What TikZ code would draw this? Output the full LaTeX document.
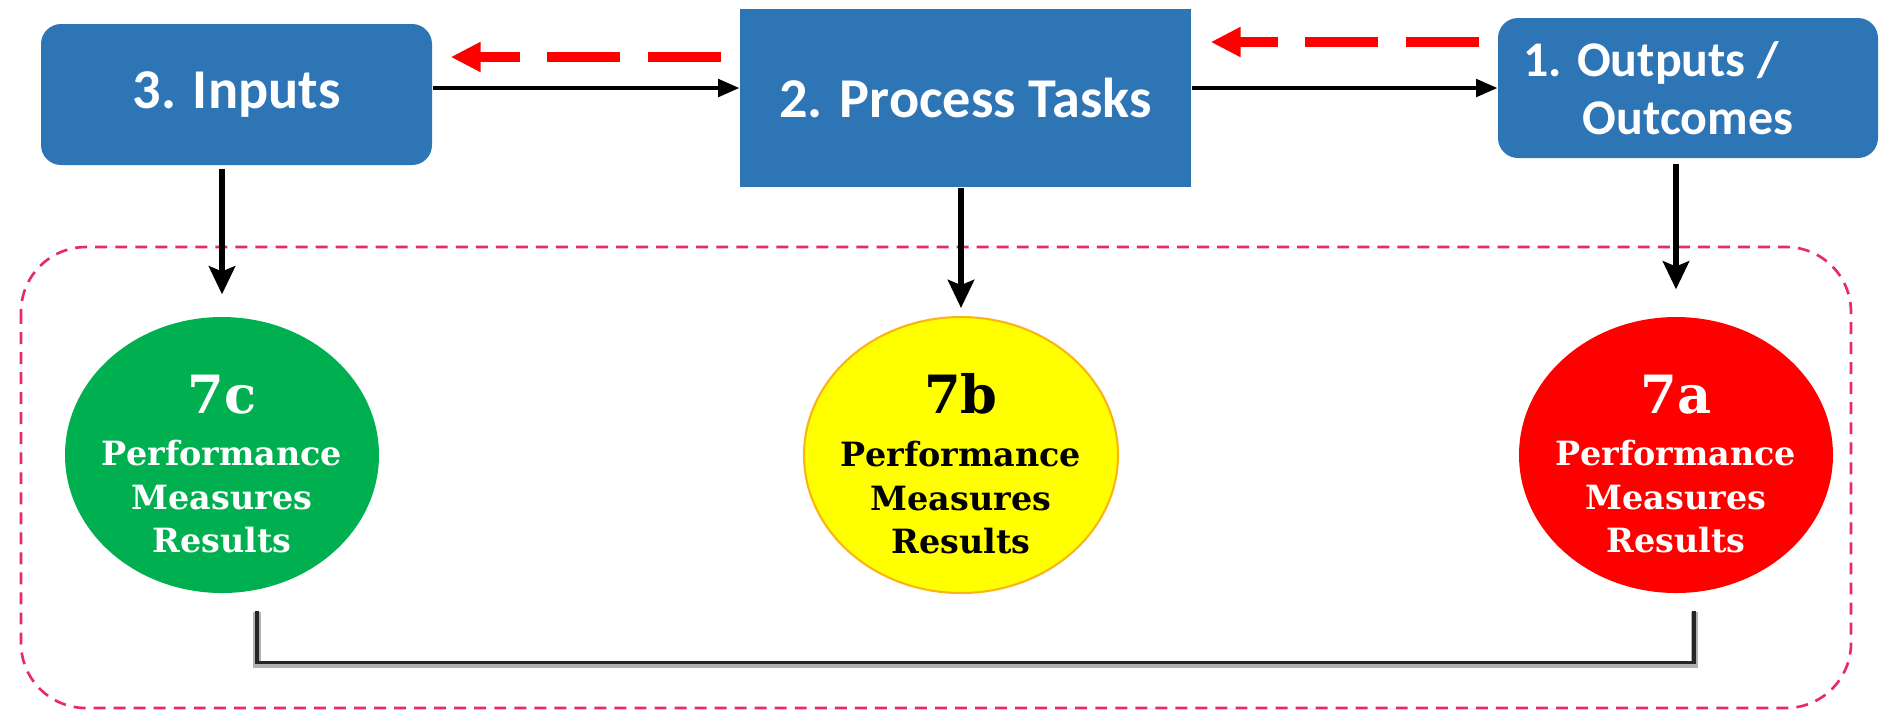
\documentclass[tikz,border=0pt]{standalone}
\usepackage{fontspec}
\usepackage{tikz}
\usetikzlibrary{arrows.meta}
\usetikzlibrary{shapes.geometric}
\newfontfamily\boxfont{Carlito}
\newfontfamily\measfont{DejaVu Serif}
\definecolor{boxblue}{RGB}{46,117,182}
\definecolor{pmgreen}{RGB}{0,176,80}
\definecolor{pmyellow}{RGB}{255,255,0}
\definecolor{pmred}{RGB}{255,0,0}
\definecolor{rimpink}{RGB}{232,40,112}
\definecolor{rimorange}{RGB}{250,180,20}
\begin{document}
\begin{tikzpicture}[x=0.1mm, y=-0.1mm,
				   blockbox/.style={fill=boxblue, text=white, inner sep=0pt, align=center,
				                    font=\boxfont\bfseries\fontsize{16}{19}\selectfont},
				   measnode/.style={ellipse, minimum width=3.14cm, minimum height=2.76cm, inner sep=0pt},
				   meastext/.style={inner sep=0pt, align=center,
				                    font=\measfont\bfseries\fontsize{9.5}{12.4}\selectfont},
				   flowarrow/.style={draw=black, line width=0.9pt, -{Triangle[length=6pt,width=5pt]}},
				   backarrow/.style={draw=pmred, line width=2.8pt, dash pattern=on 21pt off 7.7pt,
				                     -{Triangle[length=8.5pt,width=8pt]}},
				   downarrow/.style={draw=black, line width=1.5pt, -{Stealth[length=8pt,width=7.5pt,inset=1.5pt]}},
				   rimbox/.style={draw=rimpink, line width=0.75pt, dash pattern=on 3.4pt off 2.3pt, rounded corners=0.65cm},
				   linkline/.style={draw=black!85, line width=1pt,
				                    preaction={draw=black!30, line width=2pt, transform canvas={yshift=-0.5pt}}}]
\useasboundingbox (0,0) rectangle (1880,711);

\node[blockbox, rounded corners=0.2cm, minimum width=3.91cm, minimum height=1.41cm] (inp) at (236.5,94.5) {3. Inputs};
\node[blockbox, minimum width=4.51cm, minimum height=1.78cm] (proc) at (965.5,98) {2. Process Tasks};
\node[blockbox, rounded corners=0.2cm, minimum width=3.80cm, minimum height=1.40cm,
      font=\boxfont\bfseries\fontsize{14.2}{16.5}\selectfont] (out) at (1688,88) {1. Outputs /\hspace*{0.74cm}\\Outcomes};

\draw[rimbox] (21,247) rectangle (1851,708);

\node[measnode, fill=pmgreen] (mc) at (222,455) {};
\node[measnode, fill=pmyellow, draw=rimorange, line width=0.6pt] (mb) at (961,455) {};
\node[measnode, fill=pmred] (ma) at (1676,455) {};
\node[meastext, text=white] (tc) at ([yshift=-0.09cm]mc.center) {{\fontsize{15}{18}\selectfont 7c}\\[2.6pt]Performance\\Measures\\Results};
\node[meastext, text=black] (tb) at ([yshift=-0.09cm]mb.center) {{\fontsize{15}{18}\selectfont 7b}\\[2.6pt]Performance\\Measures\\Results};
\node[meastext, text=white] (ta) at ([yshift=-0.09cm]ma.center) {{\fontsize{15}{18}\selectfont 7a}\\[2.6pt]Performance\\Measures\\Results};

\draw[backarrow, shorten <=0.18cm, shorten >=0.18cm] (proc.west |- 0,57) -- (inp.east |- 0,57);
\draw[backarrow, shorten <=0.18cm, shorten >=0.19cm] (out.west |- 0,42) -- (proc.east |- 0,42);
\draw[flowarrow] (inp.east |- 0,88) -- (proc.west |- 0,88);
\draw[flowarrow] (proc.east |- 0,88) -- (out.west |- 0,88);

\draw[downarrow, shorten <=0.03cm, shorten >=0.22cm] (inp.south -| mc.north) -- (mc.north);
\draw[downarrow, shorten >=0.08cm] (proc.south -| mb.north) -- (mb.north);
\draw[downarrow, shorten <=0.05cm, shorten >=0.27cm] (out.south -| ma.north) -- (ma.north);

\coordinate (brL) at ([xshift=0.35cm,yshift=-0.17cm]mc.south);
\coordinate (brR) at ([xshift=0.18cm,yshift=-0.17cm]ma.south);
\draw[linkline] (brL) -- ++(0,52) -| (brR);
\end{tikzpicture}
\end{document}
